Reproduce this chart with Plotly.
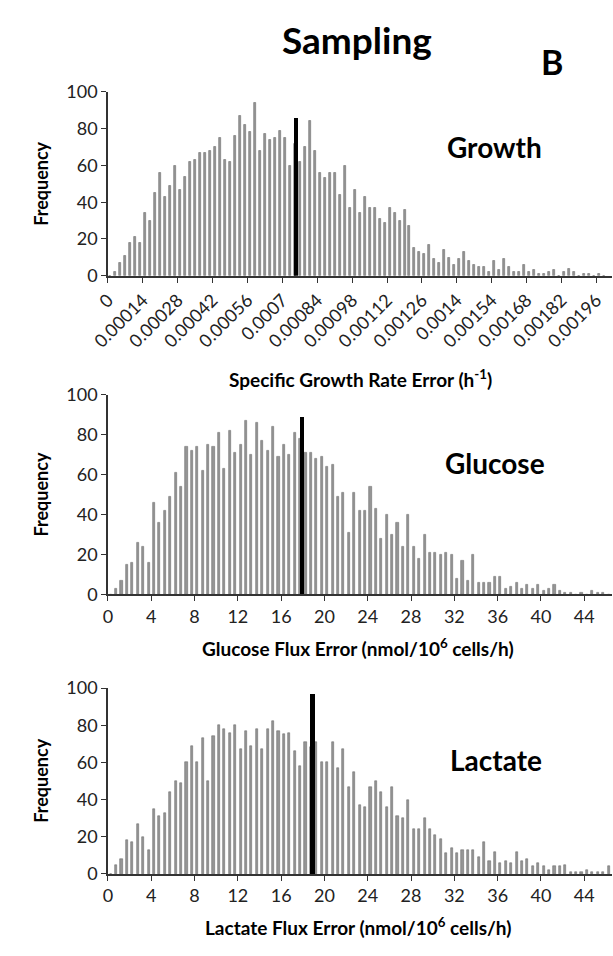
import plotly.graph_objects as go

# ---------------- data ----------------
growth_bin_width = 0.00002
growth_counts = [0, 2, 7, 11, 18, 21, 18, 34, 30, 45, 56, 43, 49, 60, 47, 54, 62, 63, 67, 67,
                 68, 70, 75, 63, 62, 76, 87, 82, 78, 94, 68, 77, 74, 75, 79, 75, 60, 72, 62, 70,
                 84, 68, 56, 53, 56, 56, 44, 60, 37, 47, 34, 43, 37, 37, 31, 29, 37, 34, 30, 36,
                 27, 15, 13, 12, 17, 9, 7, 14, 10, 6, 9, 13, 8, 6, 5, 5, 2, 8, 3, 9,
                 5, 2, 2, 6, 2, 3, 1, 1, 2, 3, 0, 2, 4, 2, 0, 1, 1, 0, 1, 0]
growth_marker_x = 0.000755
growth_marker_h = 86
growth_tickvals = [0, 0.00014, 0.00028, 0.00042, 0.00056, 0.0007, 0.00084, 0.00098,
                   0.00112, 0.00126, 0.0014, 0.00154, 0.00168, 0.00182, 0.00196]
growth_ticktext = ["0", "0.00014", "0.00028", "0.00042", "0.00056", "0.0007", "0.00084", "0.00098",
                   "0.00112", "0.00126", "0.0014", "0.00154", "0.00168", "0.00182", "0.00196"]

glucose_bin_width = 0.5
glucose_counts = [0, 3, 7, 15, 16, 26, 24, 16, 46, 36, 42, 49, 61, 54, 74, 72, 74, 62, 75, 74,
                  81, 63, 82, 71, 75, 87, 70, 86, 77, 72, 84, 69, 75, 70, 81, 78, 71, 71, 68, 69,
                  64, 65, 49, 51, 31, 51, 42, 42, 54, 43, 28, 40, 30, 36, 24, 40, 24, 18, 30, 21,
                  21, 20, 21, 20, 8, 17, 7, 20, 6, 6, 6, 9, 9, 3, 4, 6, 3, 5, 3, 5,
                  2, 3, 5, 2, 1, 1, 0, 1, 0, 2, 1, 1, 0]
glucose_marker_x = 17.92
glucose_marker_h = 89

lactate_bin_width = 0.5
lactate_counts = [0, 5, 8, 18, 17, 27, 20, 13, 35, 31, 33, 44, 50, 49, 60, 69, 60, 73, 50, 74,
                  80, 78, 76, 80, 67, 77, 69, 78, 67, 78, 82, 77, 75, 76, 66, 58, 71, 68, 71, 60,
                  60, 71, 57, 67, 47, 55, 37, 36, 47, 50, 44, 36, 47, 31, 30, 40, 24, 24, 30, 24,
                  21, 19, 11, 14, 11, 13, 13, 13, 9, 17, 7, 12, 6, 7, 6, 12, 7, 8, 4, 6,
                  4, 2, 4, 4, 5, 1, 1, 1, 2, 1, 1, 1, 4]
lactate_marker_x = 18.93
lactate_marker_h = 97

flux_tickvals = [0, 4, 8, 12, 16, 20, 24, 28, 32, 36, 40, 44]

# ---------------- figure ----------------
W, H = 613, 956
FONT = "Lato"
GRAY = "#959595"
EDGE = "#6e6e6e"

fig = go.Figure()

panels = [
    (growth_counts, growth_bin_width, growth_marker_x, growth_marker_h, "x", "y"),
    (glucose_counts, glucose_bin_width, glucose_marker_x, glucose_marker_h, "x2", "y2"),
    (lactate_counts, lactate_bin_width, lactate_marker_x, lactate_marker_h, "x3", "y3"),
]
for counts, bw, mx, mh, xa, ya in panels:
    xs = [(i + 0.5) * bw for i in range(len(counts))]
    fig.add_trace(go.Bar(x=xs, y=counts, width=bw * 0.40,
                         marker=dict(color=GRAY, line=dict(width=0.6, color=EDGE)),
                         xaxis=xa, yaxis=ya, showlegend=False))
    fig.add_trace(go.Bar(x=[mx], y=[mh], width=bw * 0.9, marker=dict(color="#000000", line=dict(width=0)),
                         xaxis=xa, yaxis=ya, showlegend=False))

xdom = [92.7 / W, 612 / W]
def ydom(top_px, bot_px):
    return [1 - bot_px / H, 1 - top_px / H]

axis_common = dict(showline=True, linecolor="#333333", linewidth=1.5, ticks="outside",
                   ticklen=5, tickwidth=1.2, tickcolor="#333333", showgrid=False, zeroline=False,
                   tickfont=dict(family=FONT, size=18, color="#222222"))

fig.update_layout(
    width=W, height=H, margin=dict(l=0, r=0, t=0, b=0),
    paper_bgcolor="white", plot_bgcolor="white", barmode="overlay", bargap=0,
    xaxis=dict(domain=xdom, anchor="y", range=[0, 0.002023], tickvals=growth_tickvals,
               ticktext=growth_ticktext, tickangle=-45, **axis_common),
    yaxis=dict(domain=ydom(81.7, 270), anchor="x", range=[0, 100], dtick=20, **axis_common),
    xaxis2=dict(domain=xdom, anchor="y2", range=[0, 46.57], tickvals=flux_tickvals, **axis_common),
    yaxis2=dict(domain=ydom(391.7, 596), anchor="x2", range=[0, 100], dtick=20, **axis_common),
    xaxis3=dict(domain=xdom, anchor="y3", range=[0, 46.57], tickvals=flux_tickvals, **axis_common),
    yaxis3=dict(domain=ydom(692, 882.3), anchor="x3", range=[0, 100], dtick=20, **axis_common),
)

def ann(text, xpx, ypx, size, angle=0, bold=True):
    fig.add_annotation(text=text, x=xpx / W, y=1 - ypx / H, xref="paper", yref="paper",
                       xanchor="center", yanchor="middle", showarrow=False, textangle=angle,
                       font=dict(family=FONT, size=size, color="#000000",
                                 weight="bold" if bold else "normal"))

ann("Sampling", 349, 28, 37)
ann("B", 550.5, 51, 34)
ann("Growth", 491, 138, 28)
ann("Glucose", 491, 462, 28)
ann("Lactate", 492, 766, 28)
for yc in [176, 494, 787]:
    ann("Frequency", 23.5, yc, 18, angle=-90)
ann("Specific Growth Rate Error (h<sup>-1</sup>)", 353, 375, 19)
ann("Glucose Flux Error (nmol/10<sup>6</sup> cells/h)", 350, 650, 19)
ann("Lactate Flux Error (nmol/10<sup>6</sup> cells/h)", 350, 936, 19)

fig.write_html("out.html")
